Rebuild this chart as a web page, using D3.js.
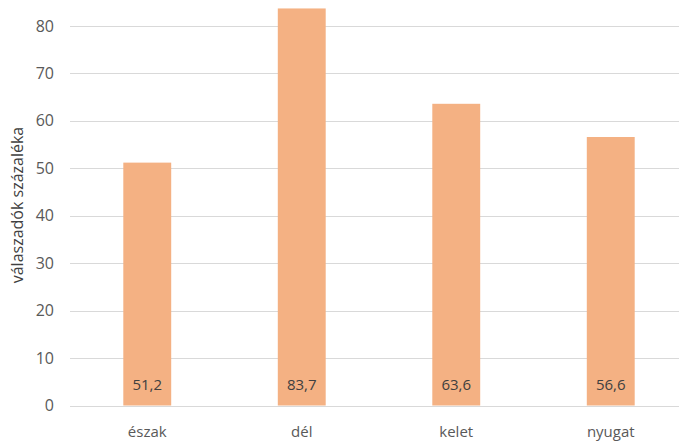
<!DOCTYPE html>
<html><head><meta charset="utf-8">
<script src="https://cdn.jsdelivr.net/npm/d3@7"></script>
<style>body{margin:0;background:#fff;}svg{display:block;}</style>
</head><body>
<svg id="c" width="679" height="442"></svg>
<script>
const categories = ["észak", "dél", "kelet", "nyugat"];
const values = [51.2, 83.7, 63.6, 56.6];
const valueLabels = ["51,2", "83,7", "63,6", "56,6"];
const yTicks = [0, 10, 20, 30, 40, 50, 60, 70, 80];
const yTitle = "válaszadók százaléka";

const svg = d3.select("#c");
const font = "'Open Sans', 'Noto Sans', sans-serif";
const x = d3.scaleBand().domain(categories).range([70, 688]).paddingInner(0.69).paddingOuter(0.345);
const y = d3.scaleLinear().domain([0, 80]).range([405.5, 26]);

const grid = svg.append("g");
grid.selectAll("line").data(yTicks).join("line")
  .attr("x1", 70).attr("x2", 688)
  .attr("y1", d => Math.round(y(d)) + 0.5).attr("y2", d => Math.round(y(d)) + 0.5)
  .attr("stroke", "#d9d9d9").attr("stroke-width", 1);

svg.append("g").selectAll("text").data(yTicks).join("text")
  .attr("x", 54).attr("y", d => y(d)).attr("dy", "0.35em")
  .attr("text-anchor", "end").attr("font-family", font).attr("font-size", 16)
  .attr("fill", "#595959").text(d => d);

svg.append("g").selectAll("rect").data(values).join("rect")
  .attr("x", (d, i) => x(categories[i])).attr("width", x.bandwidth())
  .attr("y", d => y(d)).attr("height", d => y(0) - y(d))
  .attr("fill", "#f4b183");

svg.append("g").selectAll("text").data(valueLabels).join("text")
  .attr("x", (d, i) => x(categories[i]) + x.bandwidth() / 2).attr("y", 385)
  .attr("dy", "0.35em").attr("text-anchor", "middle")
  .attr("font-family", font).attr("font-size", 15).attr("fill", "#404040").text(d => d);

svg.append("g").selectAll("text").data(categories).join("text")
  .attr("x", d => x(d) + x.bandwidth() / 2).attr("y", 432)
  .attr("dy", "0.35em").attr("text-anchor", "middle")
  .attr("font-family", font).attr("font-size", 15).attr("fill", "#595959").text(d => d);

svg.append("text")
  .attr("transform", "translate(17,205) rotate(-90)")
  .attr("dy", "0.35em").attr("text-anchor", "middle")
  .attr("font-family", font).attr("font-size", 16).attr("fill", "#404040").text(yTitle);
</script>
</body></html>
